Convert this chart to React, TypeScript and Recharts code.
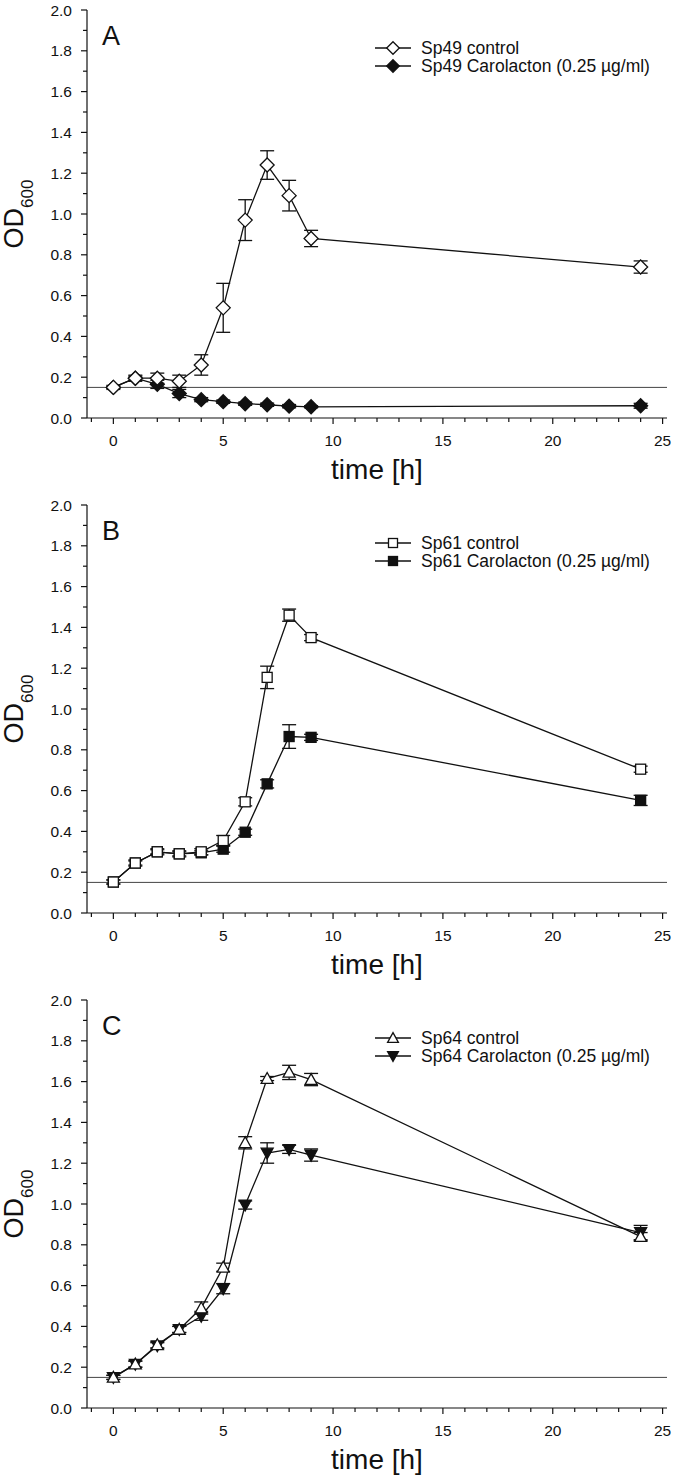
import React from "react";
import { LineChart, Line, XAxis, YAxis, ReferenceLine, ErrorBar, Label } from "recharts";

// sampling times (h)
const hours = [0, 1, 2, 3, 4, 5, 6, 7, 8, 9, 24];

const xTicks = [-1, 0, 1, 2, 3, 4, 5, 6, 7, 8, 9, 10, 11, 12, 13, 14, 15, 16, 17, 18, 19, 20, 21, 22, 23, 24, 25];
const yTicks = [0, 0.1, 0.2, 0.3, 0.4, 0.5, 0.6, 0.7, 0.8, 0.9, 1.0, 1.1, 1.2, 1.3, 1.4, 1.5, 1.6, 1.7, 1.8, 1.9, 2.0];

// Panel A - Sp49
const sp49Control = [0.15, 0.195, 0.195, 0.18, 0.26, 0.54, 0.97, 1.24, 1.09, 0.88, 0.74];
const sp49ControlErr = [0.01, 0.015, 0.025, 0.03, 0.05, 0.12, 0.1, 0.07, 0.075, 0.04, 0.03];
const sp49Caro = [0.15, 0.195, 0.165, 0.12, 0.09, 0.08, 0.07, 0.065, 0.058, 0.055, 0.06];
const sp49CaroErr = [0.005, 0.01, 0.02, 0.02, 0.01, 0.008, 0.008, 0.008, 0.008, 0.005, 0.012];

// Panel B - Sp61
const sp61Control = [0.152, 0.245, 0.3, 0.29, 0.3, 0.355, 0.545, 1.155, 1.46, 1.35, 0.705];
const sp61ControlErr = [0.01, 0.015, 0.015, 0.015, 0.015, 0.025, 0.02, 0.055, 0.03, 0.015, 0.015];
const sp61Caro = [0.152, 0.245, 0.3, 0.29, 0.295, 0.313, 0.396, 0.633, 0.865, 0.861, 0.552];
const sp61CaroErr = [0.01, 0.01, 0.01, 0.01, 0.01, 0.015, 0.015, 0.02, 0.058, 0.015, 0.025];

// Panel C - Sp64
const sp64Control = [0.15, 0.215, 0.31, 0.385, 0.49, 0.69, 1.3, 1.615, 1.645, 1.61, 0.84];
const sp64ControlErr = [0.01, 0.015, 0.015, 0.015, 0.03, 0.02, 0.03, 0.01, 0.035, 0.03, 0.02];
const sp64Caro = [0.15, 0.215, 0.305, 0.385, 0.45, 0.585, 0.995, 1.25, 1.268, 1.24, 0.86];
const sp64CaroErr = [0.01, 0.015, 0.015, 0.015, 0.02, 0.025, 0.02, 0.05, 0.02, 0.03, 0.035];

const W = 675;
const H = 495;
const PLOT_TOP = 10;
const PLOT_LEFT = 87;
const PLOT_BOTTOM = 418;
const FONT = '"Liberation Sans", Arial, sans-serif';
const INK = "#111";

type Shape = "diamond" | "square" | "triUp" | "triDown";

function Marker({ shape, cx, cy, fill, s = 1 }: { shape: Shape; cx: number; cy: number; fill: string; s?: number }) {
  const common = { fill, stroke: INK, strokeWidth: 1.3 };
  if (shape === "diamond") {
    const r = 7 * s;
    return <polygon points={`${cx},${cy - r} ${cx + r},${cy} ${cx},${cy + r} ${cx - r},${cy}`} {...common} />;
  }
  if (shape === "square") {
    const r = 5 * s;
    return <rect x={cx - r} y={cy - r} width={2 * r} height={2 * r} {...common} />;
  }
  if (shape === "triUp") {
    const r = 6 * s;
    return <polygon points={`${cx},${cy - r} ${cx + r},${cy + r * 0.8} ${cx - r},${cy + r * 0.8}`} {...common} />;
  }
  const r = 6 * s;
  return <polygon points={`${cx - r},${cy - r * 0.8} ${cx + r},${cy - r * 0.8} ${cx},${cy + r}`} {...common} />;
}

const XTick = (props: any) => {
  const { x, payload } = props;
  const v = payload.value;
  const major = v % 5 === 0;
  return (
    <g>
      <line x1={x} x2={x} y1={PLOT_BOTTOM} y2={PLOT_BOTTOM + (major ? 6 : 4)} stroke={INK} strokeWidth={1.2} />
      {major && (
        <text x={x} y={PLOT_BOTTOM + 28} textAnchor="middle" fontSize={15.5} fill={INK} fontFamily={FONT}>
          {v}
        </text>
      )}
    </g>
  );
};

const YTick = (props: any) => {
  const { y, payload } = props;
  const v = payload.value;
  const major = Math.round(v * 10) % 2 === 0;
  return (
    <g>
      <line x1={PLOT_LEFT - (major ? 6 : 4)} x2={PLOT_LEFT} y1={y} y2={y} stroke={INK} strokeWidth={1.2} />
      {major && (
        <text x={PLOT_LEFT - 15} y={y} dy="0.36em" textAnchor="end" fontSize={15.5} fill={INK} fontFamily={FONT}>
          {v.toFixed(1)}
        </text>
      )}
    </g>
  );
};

type PanelProps = {
  letter: string;
  strain: string;
  shape: Shape;
  shapeCaro: Shape;
  control: number[];
  controlErr: number[];
  caro: number[];
  caroErr: number[];
};

function Panel({ letter, strain, shape, shapeCaro, control, controlErr, caro, caroErr }: PanelProps) {
  const rows = hours.map((h, i) => ({
    h,
    ctrl: control[i],
    ctrlErr: controlErr[i],
    caro: caro[i],
    caroErr: caroErr[i],
  }));

  const legendRows = [
    { label: `${strain} control`, shape, fill: "#fff", y: 48 },
    { label: `${strain} Carolacton (0.25 µg/ml)`, shape: shapeCaro, fill: INK, y: 66 },
  ];

  return (
    <div style={{ position: "relative", width: W, height: H }}>
      <LineChart
        width={W}
        height={H}
        data={rows}
        margin={{ top: PLOT_TOP, right: 8, bottom: 0, left: 0 }}
        style={{ fontFamily: FONT }}
      >
        <XAxis
          dataKey="h"
          type="number"
          domain={[-1.2, 25.2]}
          ticks={xTicks}
          interval={0}
          height={77}
          tick={XTick}
          tickLine={false}
          axisLine={{ stroke: INK, strokeWidth: 1.2 }}
        >
          <Label
            content={() => (
              <text x={377} y={479} textAnchor="middle" fontSize={28} fill={INK} fontFamily={FONT}>
                time [h]
              </text>
            )}
          />
        </XAxis>
        <YAxis
          type="number"
          domain={[0, 2]}
          ticks={yTicks}
          interval={0}
          width={PLOT_LEFT}
          tick={YTick}
          tickLine={false}
          axisLine={{ stroke: INK, strokeWidth: 1.2 }}
        >
          <Label
            content={() => (
              <text
                x={23}
                y={214}
                transform="rotate(-90, 23, 214)"
                textAnchor="middle"
                fontSize={27}
                fill={INK}
                fontFamily={FONT}
              >
                OD
                <tspan fontSize={17} dy={10}>
                  600
                </tspan>
              </text>
            )}
          />
        </YAxis>
        <XAxis
          xAxisId="top"
          orientation="top"
          type="number"
          domain={[0, 1]}
          height={0}
          tick={false}
          tickLine={false}
          axisLine={{ stroke: INK, strokeWidth: 1.2 }}
        />
        <YAxis
          yAxisId="right"
          orientation="right"
          type="number"
          domain={[0, 1]}
          width={0}
          tick={false}
          tickLine={false}
          axisLine={{ stroke: INK, strokeWidth: 1.2 }}
        />
        <ReferenceLine y={0.15} stroke="#444" strokeWidth={1} />
        <Line
          dataKey="caro"
          stroke={INK}
          strokeWidth={1.3}
          isAnimationActive={false}
          activeDot={false}
          dot={(p: any) => <Marker key={`c${p.index}`} shape={shapeCaro} cx={p.cx} cy={p.cy} fill={INK} />}
        >
          <ErrorBar dataKey="caroErr" width={7} stroke={INK} strokeWidth={1.3} />
        </Line>
        <Line
          dataKey="ctrl"
          stroke={INK}
          strokeWidth={1.3}
          isAnimationActive={false}
          activeDot={false}
          dot={(p: any) => <Marker key={`k${p.index}`} shape={shape} cx={p.cx} cy={p.cy} fill="#fff" />}
        >
          <ErrorBar dataKey="ctrlErr" width={7} stroke={INK} strokeWidth={1.3} />
        </Line>
      </LineChart>
      <svg
        width={W}
        height={H}
        style={{ position: "absolute", left: 0, top: 0, pointerEvents: "none", fontFamily: FONT }}
      >
        <text x={102} y={45} fontSize={27} fill={INK}>
          {letter}
        </text>
        {legendRows.map((r) => (
          <g key={r.label}>
            <line x1={375} x2={411} y1={r.y} y2={r.y} stroke={INK} strokeWidth={1.3} />
            <Marker shape={r.shape} cx={393} cy={r.y} fill={r.fill} s={0.9} />
            <text x={421} y={r.y + 6} fontSize={17.5} fill={INK}>
              {r.label}
            </text>
          </g>
        ))}
      </svg>
    </div>
  );
}

export default function App() {
  return (
    <div style={{ position: "absolute", left: 0, top: 0, width: W, background: "#fff" }}>
      <Panel
        letter="A"
        strain="Sp49"
        shape="diamond"
        shapeCaro="diamond"
        control={sp49Control}
        controlErr={sp49ControlErr}
        caro={sp49Caro}
        caroErr={sp49CaroErr}
      />
      <Panel
        letter="B"
        strain="Sp61"
        shape="square"
        shapeCaro="square"
        control={sp61Control}
        controlErr={sp61ControlErr}
        caro={sp61Caro}
        caroErr={sp61CaroErr}
      />
      <Panel
        letter="C"
        strain="Sp64"
        shape="triUp"
        shapeCaro="triDown"
        control={sp64Control}
        controlErr={sp64ControlErr}
        caro={sp64Caro}
        caroErr={sp64CaroErr}
      />
    </div>
  );
}
